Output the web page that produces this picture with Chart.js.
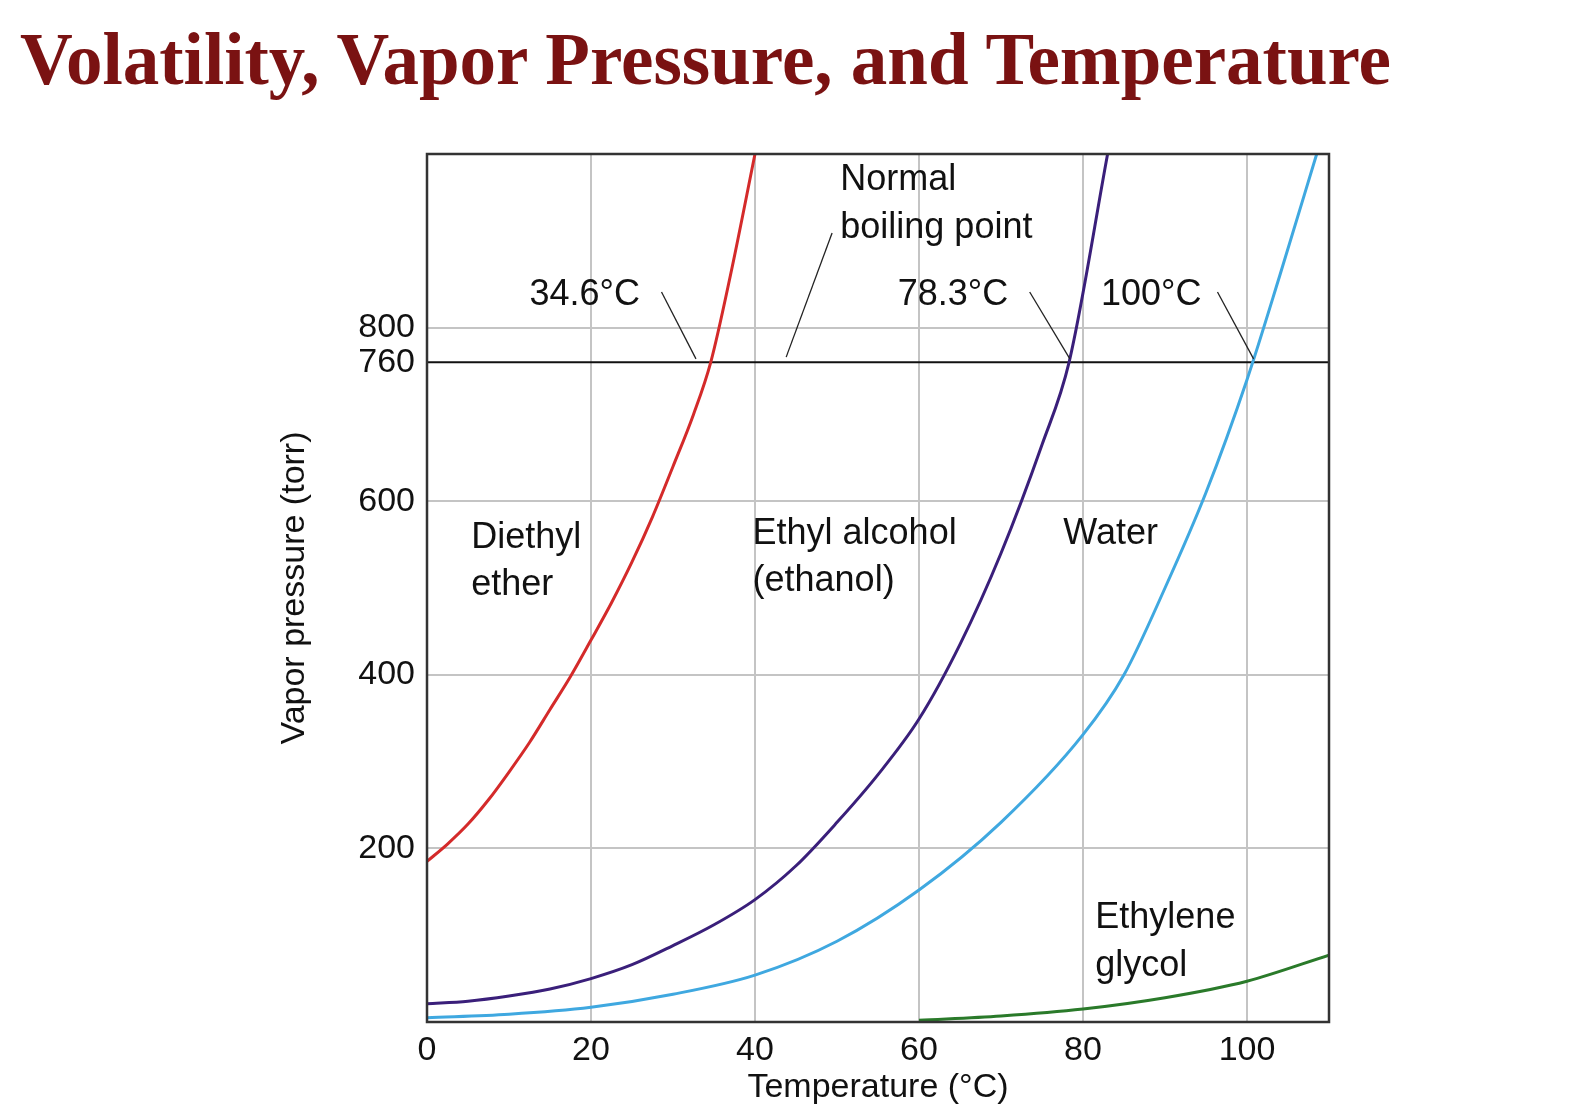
<!DOCTYPE html>
<html>
<head>
<meta charset="utf-8">
<script src="https://cdn.jsdelivr.net/npm/chart.js@4"></script>
<style>
  body { margin: 0; background: #fff; width: 1590px; height: 1112px; overflow: hidden; position: relative; }
  #titulo { position: absolute; left: 20px; top: 18px; font-family: "Liberation Serif", "DejaVu Serif", serif;
            font-weight: bold; font-size: 73px; color: #7a1212; white-space: nowrap; }
  #wrap { position: absolute; left: 0; top: 0; width: 1590px; height: 1112px; }
</style>
</head>
<body>
<div id="wrap"><canvas id="grafico"></canvas></div>
<div id="titulo">Volatility, Vapor Pressure, and Temperature</div>
<script>
// Datos
const xTicks = [0, 20, 40, 60, 80, 100];
const yTicks = [200, 400, 600, 760, 800];

const eterX = [0, 2.5, 5, 7.5, 10, 12.5, 15, 17.5, 20, 22.5, 25, 27.5, 30, 32.5, 34.6, 37, 40];
const eterY = [185, 205, 228, 256, 288, 322, 360, 398, 440, 483, 530, 582, 640, 700, 760, 860, 1000];

const etanolX = [0, 5, 10, 15, 20, 25, 30, 35, 40, 45, 50, 55, 60, 65, 70, 75, 78.3, 83];
const etanolY = [21, 24, 30, 38, 50, 66, 88, 112, 141, 180, 230, 285, 349, 435, 540, 665, 760, 1000];

const aguaX = [0, 10, 20, 30, 40, 50, 60, 70, 80, 85, 90, 95, 100, 104, 108.5];
const aguaY = [5, 9, 17, 32, 54, 93, 152, 230, 331, 400, 500, 610, 740, 860, 1000];

const glicolX = [60, 70, 80, 90, 100, 110];
const glicolY = [2, 7, 15, 28, 47, 77];

// Etiquetas en coordenadas de datos
const etiquetas = [
    { x: 50.4, y: 970, t: 'Normal' },
    { x: 50.4, y: 915, t: 'boiling point' },
    { x: 12.5, y: 838, t: '34.6°C' },
    { x: 57.4, y: 838, t: '78.3°C' },
    { x: 82.2, y: 838, t: '100°C' },
    { x: 5.4, y: 558, t: 'Diethyl' },
    { x: 5.4, y: 503, t: 'ether' },
    { x: 39.7, y: 562, t: 'Ethyl alcohol' },
    { x: 39.7, y: 508, t: '(ethanol)' },
    { x: 77.6, y: 562, t: 'Water' },
    { x: 81.5, y: 120, t: 'Ethylene' },
    { x: 81.5, y: 65, t: 'glycol' }
];
const guias = [
    [49.4, 909, 43.8, 766],
    [28.6, 841, 32.8, 764],
    [73.5, 841, 78.4, 764],
    [96.4, 841, 100.8, 764]
];

const pares = (xs, ys) => xs.map((x, i) => ({ x: x, y: ys[i] }));

const serie = (xs, ys, color) => ({
    data: pares(xs, ys),
    borderColor: color,
    borderWidth: 3,
    pointRadius: 0,
    showLine: true,
    cubicInterpolationMode: 'monotone'
});

const anotaciones = {
    id: 'anotaciones',
    beforeDatasetsDraw(chart) {
        const { ctx, chartArea: a, scales: { y } } = chart;
        ctx.save();
        ctx.strokeStyle = '#111';
        ctx.lineWidth = 2;
        ctx.beginPath();
        ctx.moveTo(a.left, y.getPixelForValue(760));
        ctx.lineTo(a.right, y.getPixelForValue(760));
        ctx.stroke();
        ctx.restore();
    },
    afterDraw(chart) {
        const { ctx, chartArea: a, scales: { x, y } } = chart;
        ctx.save();
        ctx.strokeStyle = '#333';
        ctx.lineWidth = 2.5;
        ctx.strokeRect(a.left, a.top, a.right - a.left, a.bottom - a.top);
        ctx.lineWidth = 1.3;
        ctx.strokeStyle = '#222';
        guias.forEach(g => {
            ctx.beginPath();
            ctx.moveTo(x.getPixelForValue(g[0]), y.getPixelForValue(g[1]));
            ctx.lineTo(x.getPixelForValue(g[2]), y.getPixelForValue(g[3]));
            ctx.stroke();
        });
        ctx.fillStyle = '#111';
        ctx.font = '36px "Liberation Sans", Arial, sans-serif';
        ctx.textBaseline = 'middle';
        ctx.textAlign = 'left';
        etiquetas.forEach(e => {
            ctx.fillText(e.t, x.getPixelForValue(e.x), y.getPixelForValue(e.y));
        });
        ctx.restore();
    }
};

Chart.defaults.font.family = '"Liberation Sans", Arial, sans-serif';
Chart.defaults.color = '#111';

new Chart(document.getElementById('grafico'), {
    type: 'scatter',
    data: {
        datasets: [
            serie(eterX, eterY, '#d42a2a'),
            serie(etanolX, etanolY, '#3a1f7a'),
            serie(aguaX, aguaY, '#3fa8e0'),
            serie(glicolX, glicolY, '#2a7a2a')
        ]
    },
    options: {
        responsive: true,
        maintainAspectRatio: false,
        animation: false,
        layout: { padding: { left: 270, top: 154, right: 261, bottom: 0 } },
        plugins: { legend: { display: false }, tooltip: { enabled: false } },
        scales: {
            x: {
                type: 'linear', min: 0, max: 110,
                afterBuildTicks: s => { s.ticks = xTicks.map(v => ({ value: v })); },
                afterFit: s => { s.height = 90; },
                ticks: { font: { size: 34 }, color: '#111', padding: 8 },
                grid: { color: '#c4c4c4', lineWidth: 2, drawTicks: false },
                border: { display: false },
                title: { display: true, text: 'Temperature (°C)', font: { size: 34 }, color: '#111', padding: { top: 14 } }
            },
            y: {
                type: 'linear', min: 0, max: 1000,
                afterBuildTicks: s => { s.ticks = yTicks.map(v => ({ value: v })); },
                afterFit: s => { s.width = 157; },
                ticks: { font: { size: 34 }, color: '#111', padding: 12, autoSkip: false },
                grid: { color: c => c.tick && c.tick.value === 760 ? 'rgba(0,0,0,0)' : '#c4c4c4', lineWidth: 2, drawTicks: false },
                border: { display: false },
                title: { display: true, text: 'Vapor pressure (torr)', font: { size: 34 }, color: '#111' }
            }
        }
    },
    plugins: [anotaciones]
});
</script>
</body>
</html>
